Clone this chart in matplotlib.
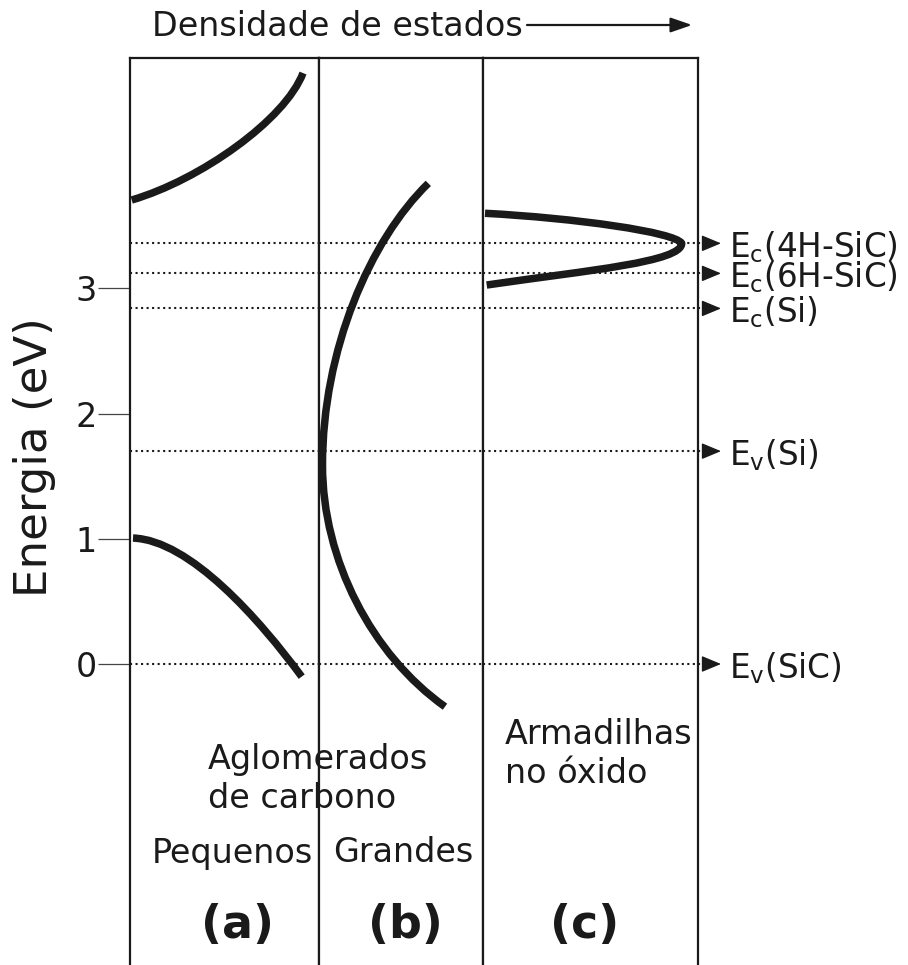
import numpy as np
import matplotlib
matplotlib.use("Agg")
import matplotlib.pyplot as plt
from matplotlib.path import Path
from matplotlib.patches import PathPatch, FancyArrowPatch
from matplotlib.transforms import blended_transform_factory

plt.rcParams['font.family'] = ['DejaVu Sans']

INK = '#1a1a1a'

# Reference energy levels (eV, relative to the SiC valence band edge)
level_names = [r'$\mathregular{E_c}$(4H-SiC)', r'$\mathregular{E_c}$(6H-SiC)',
               r'$\mathregular{E_c}$(Si)', r'$\mathregular{E_v}$(Si)',
               r'$\mathregular{E_v}$(SiC)']
level_energy = [3.36, 3.12, 2.84, 1.70, 0.0]

energy_ticks = [0, 1, 2, 3]

# Density-of-states sketches as cubic Bezier control polygons
# (arbitrary DOS units, energy in eV)
small_cb_dos = [1.7, 70, 155, 173]
small_cb_e = [3.706, 3.866, 4.345, 4.720]
small_vb_dos = [3.0, 60, 130, 171.7]
small_vb_e = [1.006, 0.990, 0.351, -0.101]

large_dos = [109, 50.7, 3.2, 3.2, 3.2, 52.7, 125.7]
large_e = [3.839, 3.387, 2.508, 1.589, 0.831, 0.072, -0.341]

trap_dos = [1.7, 91.7, 191.7, 198.4, 198.4, 106.7, 3.4]
trap_e = [3.600, 3.562, 3.450, 3.360, 3.211, 3.147, 3.027]

panel_widths = [189.3, 164.0, 214.4]
panel_tags = ['(a)', '(b)', '(c)']


def bezier_path(xs, ys):
    """Chain of cubic Bezier segments: start point, then (c1, c2, end) triples."""
    verts = list(zip(xs, ys))
    codes = [Path.MOVETO] + [Path.CURVE4] * (len(verts) - 1)
    return Path(verts, codes)


W, H = 908, 965
fig = plt.figure(figsize=(W / 100, H / 100), dpi=100)

left_px, top_px, bottom_px = 130.0, 58.0, 966.0
e0_px, px_per_ev = 664.0, 125.2
ylim = ((e0_px - bottom_px) / px_per_ev, (e0_px - top_px) / px_per_ev)

axes = []
x = left_px
for w in panel_widths:
    ax = fig.add_axes([x / W, 1 - bottom_px / H, w / W, (bottom_px - top_px) / H])
    ax.set_xlim(0, w)
    ax.set_ylim(*ylim)
    ax.set_xticks([])
    ax.set_yticks([])
    for side in ('left', 'right', 'top'):
        ax.spines[side].set_linewidth(1.6)
        ax.spines[side].set_color(INK)
    ax.spines['bottom'].set_visible(False)
    axes.append(ax)
    x += w

ax_a, ax_b, ax_c = axes

# Energy axis
ax_a.set_yticks(energy_ticks)
ax_a.set_yticklabels([str(t) for t in energy_ticks])
ax_a.tick_params(axis='y', direction='out', length=23, width=0.9, color='#444444',
                 labelsize=24, labelcolor=INK, pad=1)
fig.text(35 / W, 1 - 457 / H, 'Energia (eV)', rotation=90, fontsize=32.5,
         color=INK, ha='center', va='center')

# Dotted reference levels across all panels
for ax in axes:
    for e in level_energy:
        ax.axhline(e, color=INK, lw=1.5, ls=':', zorder=1)

# Extensions past the frame with arrowheads and labels
blend = blended_transform_factory(ax_c.transAxes, ax_c.transData)
wc = panel_widths[2]
x_end = 1 + (703 - 697.7) / wc
x_tip = 1 + (721 - 697.7) / wc
x_lab = 1 + (729 - 697.7) / wc
for name, e in zip(level_names, level_energy):
    ax_c.plot([1.0, x_end], [e, e], color=INK, lw=1.5, ls=':', transform=blend,
              clip_on=False)
    ax_c.annotate('', xy=(x_tip, e), xytext=(x_end - 0.002, e), xycoords=blend,
                  textcoords=blend, annotation_clip=False,
                  arrowprops=dict(arrowstyle='-|>,head_length=1.2,head_width=0.5',
                                  color=INK, lw=1, shrinkA=0, shrinkB=0))
    ax_c.text(x_lab, e - 0.03, name, transform=blend, fontsize=23.5, color=INK,
              ha='left', va='center', clip_on=False)

# DOS curves
curve_style = dict(facecolor='none', edgecolor=INK, lw=5.4, capstyle='butt',
                   joinstyle='round', zorder=3)
ax_a.add_patch(PathPatch(bezier_path(small_cb_dos, small_cb_e), **curve_style))
ax_a.add_patch(PathPatch(bezier_path(small_vb_dos, small_vb_e), **curve_style))
ax_b.add_patch(PathPatch(bezier_path(large_dos, large_e), **curve_style))
ax_c.add_patch(PathPatch(bezier_path(trap_dos, trap_e), **curve_style))

# Header with density-of-states arrow
fig.text(152 / W, 1 - 27 / H, 'Densidade de estados', fontsize=24, color=INK,
         ha='left', va='center')
fig.patches.append(FancyArrowPatch(
    (527 / W, 1 - 25 / H), (692 / W, 1 - 25 / H), transform=fig.transFigure,
    arrowstyle='-|>,head_length=1.3,head_width=0.45', mutation_scale=10,
    color=INK, lw=1.6, shrinkA=0, shrinkB=0))

# Panel annotations
def ftext(xp, yp, s, **kw):
    fig.text(xp / W, 1 - yp / H, s, color=INK, **kw)

ftext(208, 779, 'Aglomerados\nde carbono', fontsize=24, ha='left', va='center',
      linespacing=1.25)
ftext(505, 754, 'Armadilhas\nno óxido', fontsize=24, ha='left', va='center',
      linespacing=1.25)
ftext(152, 853, 'Pequenos', fontsize=24, ha='left', va='center')
ftext(333, 853, 'Grandes', fontsize=24, ha='left', va='center')

tag_x = [238, 405, 585]
for tx, tag in zip(tag_x, panel_tags):
    ftext(tx, 925, tag, fontsize=33, fontweight='bold', ha='center', va='center')

fig.savefig('out.png', dpi=100)
